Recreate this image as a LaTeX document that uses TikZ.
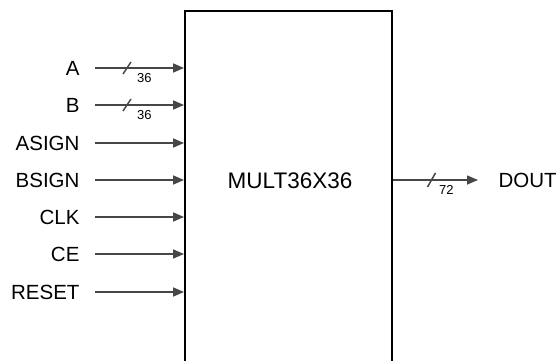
\documentclass[tikz,border=0pt]{standalone}
\usepackage{fontspec}
\setmainfont{Liberation Sans}
\usetikzlibrary{arrows.meta,positioning}

\begin{document}
\begin{tikzpicture}[x=1pt,y=-1pt,>={Triangle[length=11pt,width=9pt]},font=\fontsize{20.5}{24}\selectfont,
  wire/.style={draw=black!72,line width=1.5pt},
  buswidth/.style={font=\fontsize{13}{15}\selectfont,inner sep=1pt}]
\useasboundingbox (0,0) rectangle (560,361);
\clip (0,0) rectangle (560,361);
% multiplier block, open at the bottom
\node[draw,line width=1.9pt,minimum width=207pt,minimum height=380pt,inner sep=0pt] (mult) at (288.5,201) {};
\node[font=\fontsize{22.5}{26}\selectfont] (core) at (290,181) {MULT36X36};
% input pins
\foreach \y/\pin in {68/A,105/B,143/ASIGN,180/BSIGN,217/CLK,254/CE,292/RESET}{
  \node[anchor=east] (\pin) at (83,\y) {\pin};
  \draw[wire,->] ([xshift=12pt]\pin.east) -- (mult.west |- \pin.east);
}
% bus slashes
\foreach \pin in {A,B}{
  \draw[wire] ([shift={(40pt,-6pt)}]\pin.east) -- ++(8pt,12pt);
  \node[buswidth,anchor=north west] (w\pin) at ([shift={(53pt,-4pt)}]\pin.east) {36};
}
% output
\node[anchor=west] (DOUT) at (495,180) {DOUT};
\draw[wire,->] (mult.east |- DOUT.west) -- ([xshift=-17pt]DOUT.west);
\draw[wire] ([shift={(-4pt,-7pt)}]431.5,180) -- ++(8pt,14pt);
\node[buswidth,anchor=north west] (wDOUT) at (438,184) {72};
\end{tikzpicture}
\end{document}
